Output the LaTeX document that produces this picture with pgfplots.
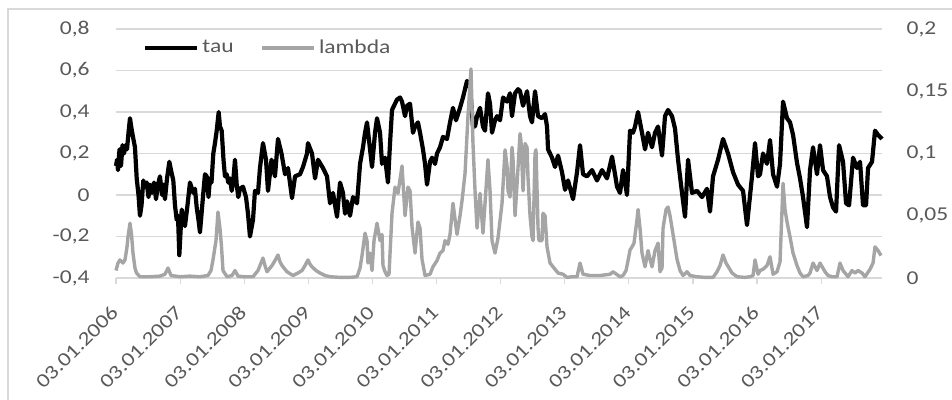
\documentclass[border=0pt]{standalone}
\usepackage{pgfplots}
\pgfplotsset{compat=1.18}
\usepackage{pgfplotstable}
\usepackage{fontspec}
\setmainfont{Carlito}[FakeStretch=1.2]
\definecolor{gridc}{HTML}{D9D9D9}
\definecolor{txt}{HTML}{595959}
\definecolor{lam}{HTML}{A5A5A5}

\pgfplotstableread{
x y
2006.000 0.14
2006.016 0.17
2006.031 0.12
2006.055 0.22
2006.078 0.14
2006.101 0.24
2006.125 0.20
2006.148 0.24
2006.172 0.22
2006.195 0.30
2006.218 0.37
2006.242 0.32
2006.265 0.28
2006.296 0.23
2006.323 0.08
2006.351 0.00
2006.374 -0.10
2006.398 -0.05
2006.426 0.07
2006.452 0.04
2006.479 0.06
2006.507 -0.01
2006.530 0.05
2006.562 0.01
2006.593 0.06
2006.624 -0.02
2006.655 0.05
2006.686 0.09
2006.718 0.00
2006.741 0.05
2006.764 -0.02
2006.796 0.08
2006.832 0.16
2006.858 0.12
2006.894 0.07
2006.920 -0.05
2006.947 -0.12
2006.967 -0.10
2006.988 -0.29
2007.025 -0.07
2007.053 -0.12
2007.076 -0.15
2007.115 -0.05
2007.154 0.06
2007.206 0.01
2007.232 0.03
2007.259 -0.06
2007.287 -0.12
2007.310 -0.18
2007.362 0.01
2007.388 0.10
2007.415 0.09
2007.443 -0.01
2007.466 0.08
2007.490 0.06
2007.518 0.20
2007.544 0.25
2007.571 0.31
2007.602 0.40
2007.622 0.33
2007.649 0.31
2007.677 0.17
2007.700 0.09
2007.727 0.10
2007.752 0.06
2007.778 0.08
2007.805 0.02
2007.830 0.07
2007.856 0.17
2007.883 0.05
2007.908 -0.01
2007.934 0.03
2007.981 0.04
2008.028 -0.01
2008.059 -0.09
2008.090 -0.20
2008.137 -0.12
2008.168 0.02
2008.215 0.01
2008.246 0.13
2008.293 0.25
2008.340 0.17
2008.371 0.02
2008.426 0.17
2008.480 0.09
2008.527 0.27
2008.582 0.20
2008.637 0.10
2008.683 0.13
2008.746 -0.015
2008.793 0.09
2008.871 0.10
2008.917 0.135
2008.980 0.20
2008.995 0.25
2009.058 0.20
2009.105 0.08
2009.151 0.17
2009.229 0.13
2009.292 0.09
2009.339 -0.04
2009.385 0.01
2009.448 -0.105
2009.495 0.06
2009.541 0.01
2009.573 -0.09
2009.604 -0.03
2009.651 -0.10
2009.697 -0.01
2009.760 -0.04
2009.807 0.15
2009.853 0.23
2009.885 0.30
2009.916 0.35
2009.963 0.22
2009.994 0.135
2010.041 0.30
2010.072 0.37
2010.119 0.30
2010.150 0.15
2010.197 0.18
2010.243 0.06
2010.275 0.25
2010.306 0.41
2010.353 0.44
2010.384 0.46
2010.431 0.47
2010.462 0.45
2010.509 0.38
2010.540 0.43
2010.587 0.44
2010.633 0.30
2010.665 0.33
2010.711 0.35
2010.743 0.30
2010.789 0.22
2010.821 0.15
2010.852 0.05
2010.899 0.16
2010.930 0.18
2010.977 0.15
2011.008 0.20
2011.055 0.23
2011.101 0.28
2011.164 0.27
2011.211 0.35
2011.257 0.42
2011.304 0.36
2011.367 0.42
2011.413 0.47
2011.476 0.55
2011.523 0.52
2011.569 0.33
2011.601 0.33
2011.632 0.38
2011.679 0.42
2011.725 0.33
2011.757 0.31
2011.803 0.49
2011.835 0.44
2011.866 0.30
2011.913 0.36
2011.944 0.38
2011.991 0.36
2012.038 0.47
2012.100 0.45
2012.147 0.49
2012.178 0.38
2012.225 0.49
2012.272 0.51
2012.303 0.50
2012.350 0.43
2012.412 0.50
2012.459 0.38
2012.490 0.35
2012.537 0.50
2012.584 0.38
2012.646 0.37
2012.693 0.39
2012.724 0.33
2012.740 0.22
2012.802 0.18
2012.849 0.135
2012.896 0.19
2012.958 0.11
2013.005 0.025
2013.052 0.07
2013.130 -0.02
2013.192 0.11
2013.239 0.24
2013.286 0.10
2013.348 0.09
2013.426 0.12
2013.504 0.07
2013.582 0.12
2013.660 0.08
2013.738 0.185
2013.785 0.10
2013.816 0.04
2013.863 0.01
2013.910 0.12
2013.972 0.00
2014.019 0.31
2014.066 0.30
2014.097 0.33
2014.144 0.40
2014.206 0.30
2014.253 0.22
2014.300 0.30
2014.362 0.23
2014.409 0.30
2014.456 0.33
2014.518 0.19
2014.565 0.38
2014.612 0.41
2014.674 0.38
2014.721 0.32
2014.768 0.17
2014.830 0.01
2014.877 -0.105
2014.924 0.17
2014.986 0.01
2015.064 0.02
2015.142 -0.01
2015.220 0.03
2015.267 -0.08
2015.314 0.09
2015.392 0.17
2015.470 0.27
2015.548 0.20
2015.626 0.11
2015.704 0.05
2015.782 0.02
2015.844 -0.145
2015.922 0.09
2015.969 0.25
2016.016 0.09
2016.047 0.10
2016.094 0.20
2016.156 0.15
2016.203 0.265
2016.250 0.10
2016.312 0.04
2016.359 0.15
2016.406 0.45
2016.468 0.37
2016.515 0.35
2016.562 0.29
2016.624 0.155
2016.671 0.08
2016.718 -0.01
2016.780 -0.155
2016.827 0.12
2016.874 0.23
2016.936 0.10
2016.983 0.24
2017.030 0.12
2017.092 0.09
2017.139 -0.01
2017.186 -0.06
2017.233 -0.08
2017.280 0.24
2017.342 0.16
2017.389 -0.04
2017.436 -0.05
2017.498 0.18
2017.560 0.13
2017.607 0.16
2017.654 -0.05
2017.701 -0.05
2017.732 0.13
2017.794 0.16
2017.841 0.31
2017.888 0.29
2017.950 0.27
}\tautable

\pgfplotstableread{
x y
2006.000 0.006
2006.031 0.012
2006.062 0.0145
2006.109 0.012
2006.140 0.0145
2006.172 0.025
2006.187 0.033
2006.218 0.044
2006.242 0.035
2006.265 0.02
2006.296 0.008
2006.320 0.004
2006.374 0.001
2006.530 0.001
2006.686 0.0015
2006.764 0.003
2006.811 0.008
2006.858 0.002
2006.998 0.001
2007.154 0.0015
2007.310 0.001
2007.435 0.002
2007.482 0.006
2007.513 0.0145
2007.560 0.03
2007.591 0.053
2007.622 0.04
2007.646 0.025
2007.669 0.006
2007.732 0.001
2007.810 0.002
2007.856 0.006
2007.903 0.0015
2008.012 0.001
2008.137 0.001
2008.215 0.006
2008.262 0.012
2008.293 0.016
2008.324 0.01
2008.356 0.005
2008.402 0.008
2008.434 0.01
2008.480 0.014
2008.527 0.0185
2008.558 0.013
2008.590 0.01
2008.636 0.007
2008.668 0.005
2008.761 0.002
2008.839 0.004
2008.902 0.006
2008.949 0.01
2008.995 0.0145
2009.027 0.011
2009.058 0.009
2009.120 0.006
2009.182 0.004
2009.260 0.002
2009.339 0.001
2009.495 0.0005
2009.651 0.0005
2009.760 0.001
2009.807 0.008
2009.838 0.018
2009.885 0.036
2009.916 0.03
2009.931 0.012
2009.963 0.02
2009.994 0.006
2010.025 0.03
2010.072 0.044
2010.119 0.03
2010.150 0.035
2010.165 0.01
2010.197 0.005
2010.228 0.002
2010.259 0.003
2010.306 0.052
2010.353 0.073
2010.399 0.068
2010.462 0.09
2010.509 0.05
2010.555 0.073
2010.587 0.07
2010.618 0.041
2010.665 0.02
2010.711 0.045
2010.743 0.04
2010.774 0.015
2010.821 0.002
2010.899 0.003
2010.945 0.009
2011.008 0.014
2011.055 0.02
2011.101 0.022
2011.133 0.03
2011.179 0.027
2011.211 0.035
2011.257 0.06
2011.320 0.035
2011.367 0.05
2011.398 0.062
2011.445 0.084
2011.491 0.13
2011.538 0.168
2011.569 0.108
2011.601 0.07
2011.632 0.04
2011.679 0.068
2011.725 0.036
2011.757 0.06
2011.803 0.095
2011.835 0.07
2011.866 0.03
2011.913 0.02
2011.959 0.032
2012.022 0.06
2012.069 0.103
2012.100 0.09
2012.116 0.07
2012.147 0.065
2012.178 0.105
2012.194 0.095
2012.225 0.05
2012.256 0.075
2012.303 0.116
2012.318 0.11
2012.350 0.07
2012.381 0.108
2012.412 0.105
2012.428 0.08
2012.459 0.05
2012.490 0.033
2012.506 0.03
2012.537 0.10
2012.552 0.103
2012.584 0.04
2012.599 0.03
2012.646 0.03
2012.661 0.052
2012.693 0.05
2012.724 0.025
2012.771 0.012
2012.818 0.009
2012.896 0.004
2012.974 0.003
2013.036 0.0005
2013.114 0.001
2013.192 0.001
2013.239 0.012
2013.286 0.003
2013.395 0.002
2013.551 0.002
2013.707 0.003
2013.754 0.005
2013.863 0.001
2013.910 0.002
2013.957 0.006
2013.988 0.014
2014.019 0.0225
2014.050 0.025
2014.081 0.028
2014.128 0.047
2014.144 0.055
2014.175 0.04
2014.206 0.02
2014.253 0.009
2014.300 0.022
2014.331 0.015
2014.362 0.009
2014.409 0.022
2014.456 0.028
2014.487 0.005
2014.518 0.008
2014.534 0.04
2014.581 0.055
2014.612 0.057
2014.643 0.05
2014.690 0.035
2014.752 0.015
2014.799 0.006
2014.846 0.002
2014.908 0.005
2014.955 0.002
2015.064 0.001
2015.189 0.0005
2015.314 0.0005
2015.376 0.005
2015.423 0.01
2015.470 0.0185
2015.517 0.012
2015.564 0.008
2015.610 0.004
2015.688 0.001
2015.813 0.0005
2015.891 0.001
2015.938 0.002
2015.969 0.0145
2016.016 0.003
2016.047 0.006
2016.094 0.007
2016.156 0.01
2016.203 0.017
2016.250 0.003
2016.312 0.005
2016.359 0.013
2016.406 0.076
2016.437 0.055
2016.468 0.045
2016.515 0.033
2016.562 0.02
2016.624 0.01
2016.671 0.004
2016.718 0.001
2016.796 0.002
2016.827 0.004
2016.874 0.012
2016.936 0.006
2016.983 0.012
2017.061 0.005
2017.108 0.002
2017.170 0.001
2017.248 0.001
2017.295 0.012
2017.342 0.006
2017.420 0.001
2017.482 0.006
2017.529 0.004
2017.576 0.006
2017.638 0.004
2017.685 0.001
2017.763 0.007
2017.810 0.012
2017.841 0.025
2017.888 0.022
2017.935 0.018
}\lamtable

\pgfplotsset{
  tlfont/.style={font=\fontsize{9.8pt}{11pt}\selectfont, text=txt},
}

\begin{document}
\begin{tikzpicture}
\path[use as bounding box] (0,0) rectangle (476pt,200pt);
\draw[gridc, line width=0.6pt] (4pt,-1pt) -- (4pt,195.5pt) -- (477pt,195.5pt);
\begin{axis}[
  scale only axis, width=383pt, height=124.5pt,
  at={(58pt,61pt)}, anchor=south west,
  xmin=2006, xmax=2017.95, ymin=-0.4, ymax=0.8,
  clip=false,
  axis x line=bottom, axis y line=left,
  x axis line style={draw=gridc, line width=0.6pt, -},
  y axis line style={draw=none, -},
  ymajorgrids, grid style={gridc, line width=0.6pt},
  ytick={-0.4,-0.2,0,0.2,0.4,0.6,0.8},
  yticklabels={{-0,4},{-0,2},0,{0,2},{0,4},{0,6},{0,8}},
  xtick={2006,2007,2008,2009,2010,2011,2012,2013,2014,2015,2016,2017},
  xticklabels={03.01.2006,03.01.2007,03.01.2008,03.01.2009,03.01.2010,03.01.2011,03.01.2012,03.01.2013,03.01.2014,03.01.2015,03.01.2016,03.01.2017},
  xtick align=outside, xtick pos=bottom,
  x tick style={draw=gridc, line width=0.6pt},
  major tick length=3pt,
  y tick style={draw=none},
  tick label style={tlfont, inner sep=0pt},
  yticklabel style={xshift=-11.5pt},
  xticklabel style={yshift=-12.5pt, xshift=-0.5pt, rotate=45, anchor=east},
]
\addplot[black, line width=2.1pt, line join=round] table {\tautable};
\end{axis}
\begin{axis}[
  scale only axis, width=383pt, height=124.5pt,
  at={(58pt,61pt)}, anchor=south west,
  xmin=2006, xmax=2017.95, ymin=0, ymax=0.2,
  clip=false,
  hide x axis,
  axis y line=right,
  y axis line style={draw=none, -},
  ytick={0,0.05,0.1,0.15,0.2},
  yticklabels={0,{0,05},{0,1},{0,15},{0,2}},
  y tick style={draw=none},
  yticklabel style={tlfont, inner sep=0pt, anchor=west, xshift=10pt},
  legend style={at={(0.035,0.924)}, anchor=west, draw=none, fill=none,
    inner sep=0pt, tlfont, nodes={inner sep=1.5pt},
    /tikz/every even column/.append style={column sep=12pt}},
  legend columns=2,
  legend cell align=left,
  legend image code/.code={\draw[#1] (0pt,0pt) -- (26pt,0pt);},
]
\addlegendimage{black, line width=2.1pt}
\addlegendentry{tau}
\addplot[lam, line width=1.7pt, line join=round] table {\lamtable};
\addlegendentry{lambda}
\end{axis}
\end{tikzpicture}
\end{document}
